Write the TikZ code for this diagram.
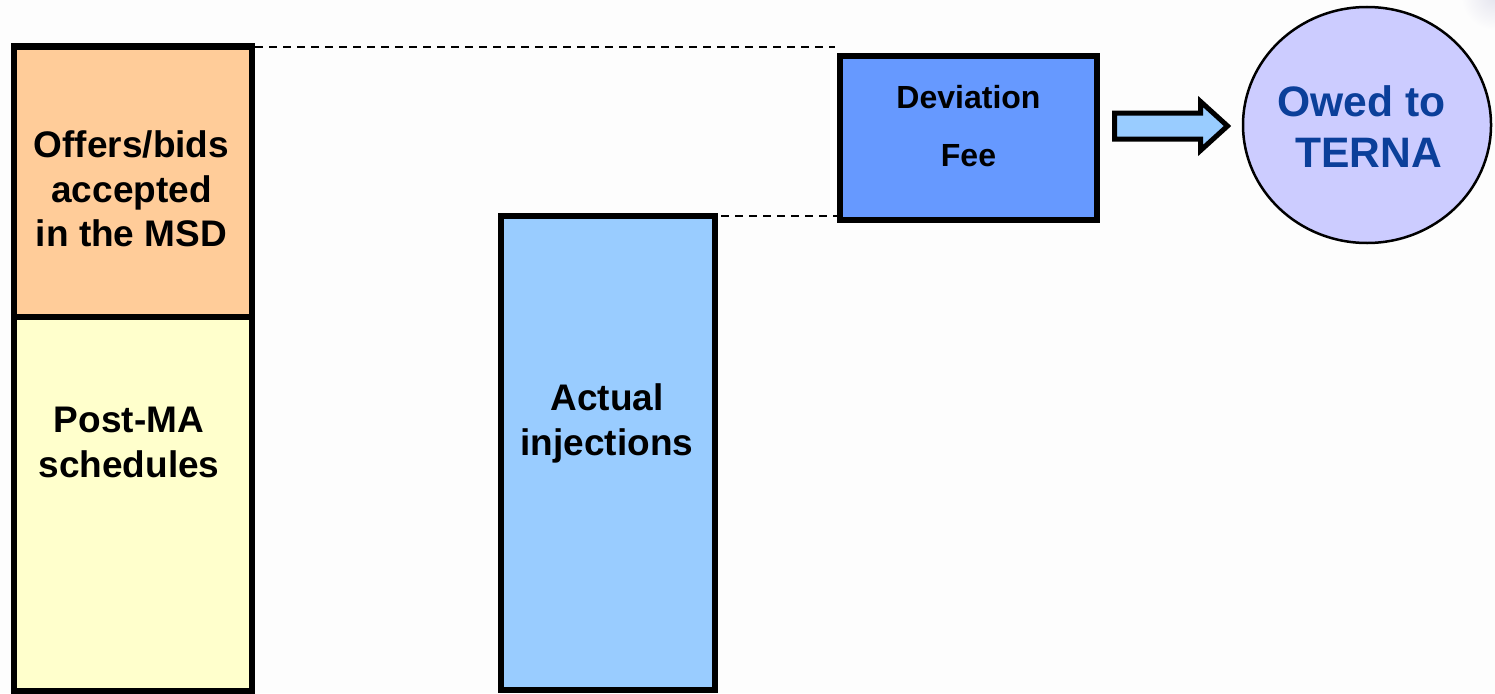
\documentclass[tikz,border=0pt]{standalone}
\usepackage{fontspec}
\usetikzlibrary{shapes.geometric}
\setmainfont{Liberation Sans}
\definecolor{bg}{HTML}{FDFDFD}
\definecolor{orangefill}{HTML}{FFCC99}
\definecolor{yellowfill}{HTML}{FFFFCC}
\definecolor{paleblue}{HTML}{99CCFF}
\definecolor{midblue}{HTML}{6699FF}
\definecolor{lilac}{HTML}{CCCCFF}
\definecolor{ternablue}{HTML}{0B3F9A}
\definecolor{corner}{HTML}{E4E4EE}
\tikzset{
  bar/.style={draw=black,line width=6pt,minimum width=#1,inner sep=0pt,outer sep=0pt},
  bartext/.style={font=\bfseries\fontsize{37}{44.5}\selectfont,align=center},
  guide/.style={draw=black,line width=2pt,dash pattern=on 8pt off 6pt}
}
\begin{document}
\begin{tikzpicture}[x=1pt,y=-1pt]
\useasboundingbox (0,0) rectangle (1495,693);
\fill[bg] (0,0) rectangle (1495,693);
\begin{scope}
\clip (0,0) rectangle (1495,693);
\shade[inner color=corner,outer color=bg] (1495,-4) circle[radius=34pt];
\end{scope}
% yellow box
\node[bar=238pt,fill=yellowfill,minimum height=374pt,anchor=north west] (sched) at (14,317) {};
\node[bartext] (schedt) at (129,442.5) {Post-MA\\schedules};
% orange box
\node[bar=238pt,fill=orangefill,minimum height=270.5pt,anchor=north west] (offers) at (14,46.5) {};
\draw[line width=7pt] ([xshift=-3pt]offers.north west) -- ([xshift=3pt]offers.north east);
\node[bartext] (offerst) at (131.5,189) {Offers/bids\\accepted\\in the MSD};
% actual injections
\node[bar=214pt,fill=paleblue,minimum height=474pt,anchor=north west] (actual) at (501,216) {};
\node[bartext] (actualt) at (607,423.5) {Actual\\injections};
% deviation fee
\node[bar=257pt,fill=midblue,minimum height=164pt,anchor=north west] (fee) at (840,56) {};
\node[font=\bfseries\fontsize{32}{58}\selectfont,align=center] (feet) at (968.5,126) {Deviation\\Fee};
% circle
\node[draw=black,line width=2.5pt,fill=lilac,ellipse,inner sep=0pt,minimum width=248pt,minimum height=236pt] (owed) at (1367,125) {};
\node[text=ternablue,font=\bfseries\fontsize{42.6}{51}\selectfont,align=center] (owedt) at (1361.5,127) {Owed to\\\hspace*{14pt}TERNA};
% block arrow
\coordinate (a1) at (1114.5,113);
\coordinate (a2) at (1200.5,113);
\coordinate (a3) at (1200.5,101.5);
\coordinate (a4) at (1227.5,126);
\coordinate (a5) at (1200.5,150.5);
\coordinate (a6) at (1200.5,139);
\coordinate (a7) at (1114.5,139);
\draw[line width=5pt,fill=paleblue,miter limit=10] (a1) -- (a2) -- (a3) -- (a4) -- (a5) -- (a6) -- (a7) -- cycle;
% guides
\coordinate (g1) at (255,47.5);
\coordinate (g2) at (835,47.5);
\draw[guide] (g1) -- (g2);
\draw[guide] ([xshift=6pt]actual.north east) -- (fee.west |- actual.north east);
\end{tikzpicture}
\end{document}
